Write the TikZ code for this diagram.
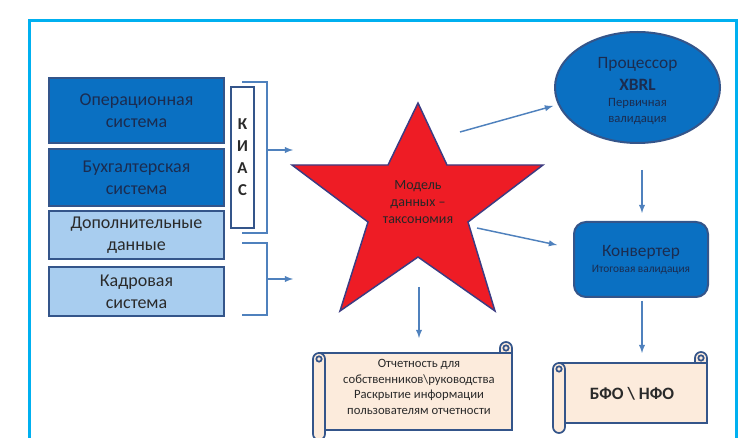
\documentclass[tikz,border=0pt]{standalone}
\usepackage{fontspec}
\setmainfont{Carlito}
\usepackage{tikz}
\usetikzlibrary{shapes.geometric,arrows,positioning}
\usepackage{xcolor}
\definecolor{framecyan}{HTML}{00B0F0}
\definecolor{darkbox}{HTML}{0A70C2}
\definecolor{lightbox}{HTML}{A8CDEF}
\definecolor{boxline}{HTML}{34558A}
\definecolor{arrowblue}{HTML}{4F81BD}
\definecolor{starred}{HTML}{EE1C25}
\definecolor{starline}{HTML}{3C3C82}
\definecolor{scrollfill}{HTML}{FCEBDC}
\definecolor{navytext}{HTML}{1B2C50}
\definecolor{greytext}{HTML}{2A2A2A}

\newcommand{\scrollbox}[4]{%
  \filldraw[scrollpart] (#1+6,#2+11) rectangle (#3,#4-10);
  \filldraw[scrollpart] (#3-12,#2+11) -- (#3-12,#2+6) arc[start angle=180,end angle=0,radius=4.5pt] -- (#3,#2+11) -- cycle;
  \draw[scrollpart] (#3-6,#2+6) circle[radius=2pt];
  \filldraw[scrollpart] (#1,#2+17) -- (#1,#4-6) arc[start angle=180,end angle=360,radius=4.5pt] -- (#1+12,#2+17) arc[start angle=0,end angle=180,radius=4.5pt] -- cycle;
  \draw[scrollpart] (#1+6,#2+17) circle[radius=2pt];
}

\begin{document}
\begin{tikzpicture} [
      x = 0.75pt, y = -0.75pt,
      every node/.style = { text = navytext, align = center, inner sep = 0 },
      sysbox/.style = { draw = boxline, line width = 1.5pt, minimum width = 131.25pt, font = \fontsize{13.5}{16.5}\selectfont },
      darksys/.style = { sysbox, fill = darkbox },
      lightsys/.style = { sysbox, fill = lightbox, text = greytext },
      bluebox/.style = { draw = boxline, fill = darkbox, line width = 1.5pt, font = \fontsize{13}{16.5}\selectfont },
      link/.style = { arrowblue, line width = 1.1pt, -latex },
      bracket/.style = { arrowblue, line width = 1.1pt },
      scrollpart/.style = { draw = boxline, fill = scrollfill, line width = 1.3pt }
      ]
    \useasboundingbox (0,0) rectangle (750,438);
    \draw [framecyan, line width = 2.25pt] (29,438) -- (29,21) -- (736,21) -- (736,438);

    \node [darksys, minimum height = 48.75pt] (oper) at (136.5,110.5) {Операционная\\система};
    \node [darksys, minimum height = 42.75pt, below = 3pt of oper] (account) {Бухгалтерская\\система};
    \node [lightsys, minimum height = 36pt, below = 2.5pt of account] (extra) {Дополнительные\\данные};
    \node [lightsys, minimum height = 36.75pt, below = 4.5pt of extra] (staff) {Кадровая\\система};

    \node [draw = boxline, fill = white, line width = 1.5pt, minimum width = 17.25pt, minimum height = 105.75pt,
           text = greytext, font = \bfseries\fontsize{12.5}{16.5}\selectfont] (kias) at (242.5,157.5) {К\\И\\А\\С};
    \draw [bracket] (242,82) -- (267,82) -- (267,233) -- (242,233);
    \draw [bracket] (242,243) -- (267,243) -- (267,315) -- (242,315);

    \filldraw [fill = starred, draw = starline, line width = 1.1pt]
      (418,103) -- (447,165) -- (543,165) -- (468,222) -- (495,311) -- (418,257)
      -- (340,311) -- (368,222) -- (292,165) -- (388,165) -- cycle;
    \node [text = black!85, font = \fontsize{10.5}{12.75}\selectfont] (model) at (418,202) {Модель\\данных –\\таксономия};

    \node [bluebox, ellipse, minimum width = 123.75pt, minimum height = 83.25pt] (xbrl) at (637.5,87.5) {};
    \node [font = \fontsize{13}{16.5}\selectfont] (xbrllabel) at (637.5,91)
      {Процессор\\\textbf{XBRL}\\[-4.5pt]{\fontsize{9.5}{12}\selectfont Первичная}\\[-4.5pt]{\fontsize{9.5}{12}\selectfont валидация}};
    \node [bluebox, rounded corners = 9pt, minimum width = 100.5pt, minimum height = 56.25pt] (conv) at (641,259.5)
      {Конвертер\\[-4.5pt]{\fontsize{8.5}{10}\selectfont Итоговая валидация}};

    \scrollbox{313}{342}{512}{440}
    \node [text = greytext, font = \fontsize{9.5}{11.8}\selectfont] (report) at (419,387)
      {Отчетность для\\собственников\textbackslash руководства\\Раскрытие информации\\пользователям отчетности};
    \scrollbox{553}{352}{707}{433}
    \node [text = greytext, font = \bfseries\fontsize{13}{16}\selectfont] (bfo) at (632,394) {БФО \textbackslash\ НФО};

    \coordinate (kiasout) at (267,150);
    \coordinate (kiasin) at (293,150);
    \coordinate (staffout) at (267,279);
    \coordinate (staffin) at (293,279);
    \coordinate (modelup) at (460,132);
    \coordinate (xbrlin) at (553,106);
    \coordinate (modelright) at (477,228);
    \coordinate (convleft) at (557,245);
    \coordinate (modeldown) at (419,287);
    \coordinate (reportin) at (419,338);
    \coordinate (xbrlout) at (642,170);
    \coordinate (convin) at (642,213);
    \coordinate (convout) at (642,301);
    \coordinate (bfoin) at (642,353);

    \draw [link] (kiasout) -- (kiasin);
    \draw [link] (staffout) -- (staffin);
    \draw [link] (modelup) -- (xbrlin);
    \draw [link] (modelright) -- (convleft);
    \draw [link] (modeldown) -- (reportin);
    \draw [link] (xbrlout) -- (convin);
    \draw [link] (convout) -- (bfoin);
\end{tikzpicture}
\end{document}
